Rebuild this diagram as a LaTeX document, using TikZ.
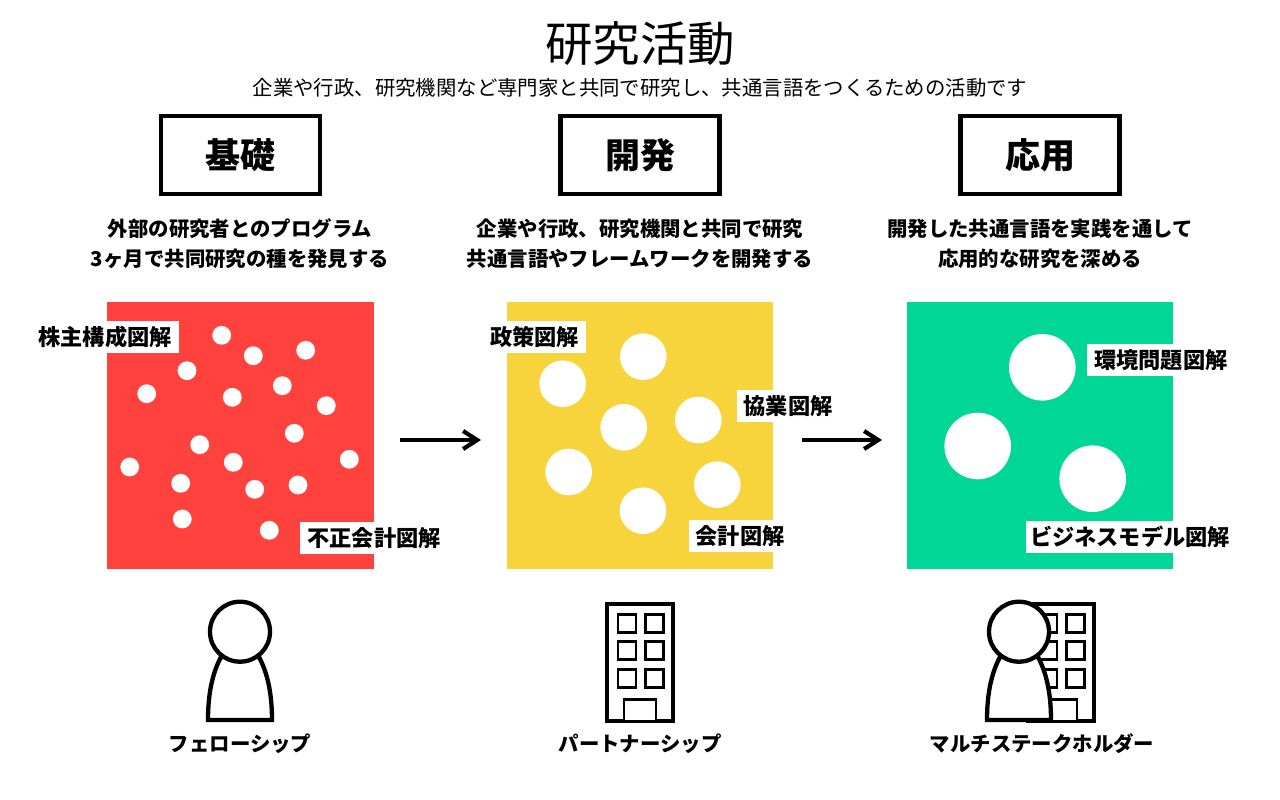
\documentclass[tikz,border=0pt]{standalone}
\usepackage{fontspec}
\setmainfont{Noto Sans CJK JP}
\usetikzlibrary{arrows.meta}
\definecolor{cred}{HTML}{FF423D}
\definecolor{cyellow}{HTML}{F7D33C}
\definecolor{cgreen}{HTML}{00D696}
\tikzset{
 txtbase/.style={inner sep=0pt,align=center,text=black},
 bigtitle/.style={txtbase,font=\fontsize{47.5pt}{50pt}\selectfont},
 subtitle/.style={txtbase,font=\fontsize{20.4pt}{24pt}\selectfont},
 headtext/.style={txtbase,font=\bfseries\fontsize{35pt}{40pt}\selectfont},
 desctext/.style={txtbase,font=\bfseries\fontsize{20.4pt}{30pt}\selectfont},
 iconlabel/.style={txtbase,font=\bfseries\fontsize{20.4pt}{24pt}\selectfont},
 tagtext/.style={txtbase,font=\bfseries\fontsize{22.2pt}{24pt}\selectfont,fill=white,minimum height=31.5pt,inner xsep=7pt},
 headbox/.style={draw=black,line width=4.7pt,fill=white,minimum width=159pt,minimum height=78pt,inner sep=0pt},
 panel/.style={minimum width=266.7pt,minimum height=266.7pt,inner sep=0pt,anchor=north west},
 flowline/.style={line width=4.2pt,black,-{Straight Barb[length=14pt,width=18pt,line width=4.2pt]}},
 iconline/.style={draw=black,line width=4.3pt,fill=white},
 winline/.style={draw=black,line width=2.9pt,fill=white},
}
\newcommand{\personicon}[1]{%
 \begin{scope}[shift={(#1,0)}]
 \draw[iconline,line join=miter] (-32,720) .. controls (-32,692) and (-27,672) .. (-19,657) -- (19,657) .. controls (27,672) and (32,692) .. (32,720) -- cycle;
 \draw[iconline] (0,631.7) circle (30);
 \end{scope}}
\newcommand{\buildingicon}[1]{%
 \begin{scope}[shift={(#1,0)}]
 \draw[iconline] (-33,604) rectangle (33,721);
 \foreach \x in {-13,14.5}\foreach \y in {623.3,650.3,678.3}{
  \draw[winline] (\x-9,\y-9) rectangle (\x+9,\y+9);}
 \draw[winline] (-16,699.5) rectangle (16,721);
 \end{scope}}
\begin{document}
\begin{tikzpicture}[x=1pt,y=-1pt]
\useasboundingbox[fill=white] (0,0) rectangle (1280,800);
\node[bigtitle] (t) at (640,44) {研究活動};
\node[subtitle] (s) at (640,87.5) {企業や行政、研究機関など専門家と共同で研究し、共通言語をつくるための活動です};
\node[headbox] (h1) at (240.5,155) {};
\node[headbox] (h2) at (640,155) {};
\node[headbox] (h3) at (1040,155) {};
\node[headtext] (h1t) at (240.5,155) {基礎};
\node[headtext] (h2t) at (640,155) {開発};
\node[headtext] (h3t) at (1040,155) {応用};
\node[desctext] (d1) at (240,243.6) {外部の研究者とのプログラム\\3ヶ月で共同研究の種を発見する};
\node[desctext] (d2) at (640,243.6) {企業や行政、研究機関と共同で研究\\共通言語やフレームワークを開発する};
\node[desctext] (d3) at (1040,243.6) {開発した共通言語を実践を通して\\応用的な研究を深める};
\node[panel,fill=cred] (p1) at (107,302) {};
\node[panel,fill=cyellow] (p2) at (506.5,302) {};
\node[panel,fill=cgreen] (p3) at (906.5,302) {};
\foreach \x/\y in {221.7/335.3,253.3/355.7,305.7/350.3,187/370.7,146.7/393.7,232.3/397.3,282.3/385.7,326.3/405.7,294.3/433.3,199.7/444.7,129.7/467,233.3/462.3,349.3/459.3,180.7/483.3,254.7/489.3,298/485,182.3/519,269.3/530.3}
 \fill[white] (\x,\y) circle (9.4);
\foreach \x/\y in {643.3/356.7,562.7/383.7,623.7/427.3,698.3/420,568.7/472,717.3/484.7,643/510.7}
 \fill[white] (\x,\y) circle (23.3);
\foreach \x/\y in {1042.3/367.3,977.7/446,1092.7/478.7}
 \fill[white] (\x,\y) circle (33.3);
\node[tagtext] (l1) at (105,337) {株主構成図解};
\node[tagtext] (l2) at (374,538) {不正会計図解};
\node[tagtext] (l3) at (534.5,337) {政策図解};
\node[tagtext] (l4) at (788,406) {協業図解};
\node[tagtext] (l5) at (740,536) {会計図解};
\node[tagtext] (l6) at (1160.8,360) {環境問題図解};
\node[tagtext,inner xsep=4.5pt] (l7) at (1130,537) {ビジネスモデル図解};
\coordinate (a1s) at (400,440);
\coordinate (a1e) at (481,440);
\coordinate (a2s) at (802,440);
\coordinate (a2e) at (882,440);
\draw[flowline] (a1s) -- (a1e);
\draw[flowline] (a2s) -- (a2e);
\personicon{240}
\buildingicon{640}
\buildingicon{1061}
\personicon{1019}
\node[iconlabel] (c1) at (240,743.5) {フェローシップ};
\node[iconlabel] (c2) at (640,743.5) {パートナーシップ};
\node[iconlabel] (c3) at (1042,743.5) {マルチステークホルダー};
\end{tikzpicture}
\end{document}
